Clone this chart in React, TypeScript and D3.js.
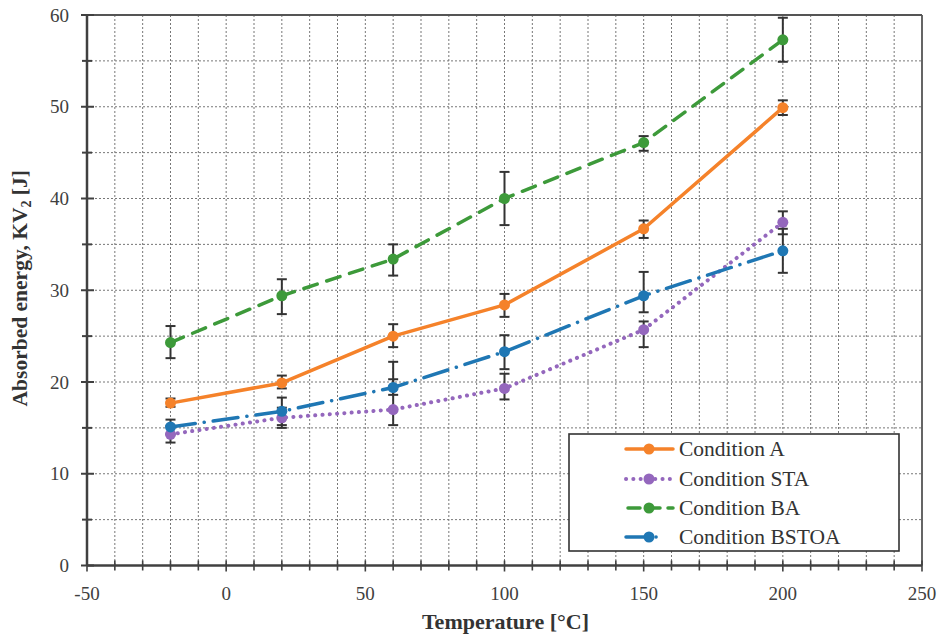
import React from 'react';
import * as d3 from 'd3';

const temps = [-20, 20, 60, 100, 150, 200];
const seriesNames = ['Condition A', 'Condition STA', 'Condition BA', 'Condition BSTOA'];
const condA = [17.7, 19.9, 25.0, 28.4, 36.7, 49.9];
const condALow = [17.3, 19.3, 23.8, 27.1, 35.7, 49.1];
const condAHigh = [18.2, 20.7, 26.3, 29.6, 37.6, 50.7];
const condSTA = [14.3, 16.1, 17.0, 19.3, 25.7, 37.4];
const condSTALow = [13.4, 15.0, 15.3, 18.1, 23.8, 36.1];
const condSTAHigh = [15.2, 17.2, 20.3, 20.9, 26.6, 38.6];
const condBA = [24.3, 29.4, 33.4, 40.0, 46.1, 57.3];
const condBALow = [22.6, 27.4, 31.6, 37.1, 45.2, 54.9];
const condBAHigh = [26.1, 31.2, 35.0, 42.9, 46.8, 59.7];
const condBSTOA = [15.1, 16.8, 19.4, 23.3, 29.4, 34.3];
const condBSTOALow = [14.3, 15.3, 18.6, 21.4, 27.6, 31.9];
const condBSTOAHigh = [15.9, 18.3, 22.2, 25.1, 32.0, 36.7];
const xTicks = [-50, 0, 50, 100, 150, 200, 250];
const yTicks = [0, 10, 20, 30, 40, 50, 60];

const W = 940;
const H = 636;
const L = 87, R = 922, T = 15, B = 565.5;

const colors = ['#f5822a', '#9467bd', '#3d9a3a', '#1f77b4'];
const dashes = ['none', '0.1,7.2', '14,10', '25,9,0.1,9'];
const values = [condA, condSTA, condBA, condBSTOA];
const lows = [condALow, condSTALow, condBALow, condBSTOALow];
const highs = [condAHigh, condSTAHigh, condBAHigh, condBSTOAHigh];

export default function App() {
  const x = d3.scaleLinear().domain([-50, 250]).range([L, R]);
  const y = d3.scaleLinear().domain([0, 60]).range([B, T]);
  const line = d3.line<number>().x((_, i) => x(temps[i])).y((d) => y(d));
  const font = '"Liberation Serif", "Times New Roman", serif';
  const xGrid = d3.range(-40, 250, 10);
  const yGrid = d3.range(5, 60, 5);
  const xMinor = d3.range(-50, 251, 10);
  const yMinor = d3.range(0, 61, 5);
  const legY = [449, 479, 508, 537];
  const legDash = ['none', '0.1,7.2', '12,8', '20,10,0.1,20'];

  return (
    <svg width={W} height={H} style={{ position: 'absolute', left: 0, top: 0, background: '#fff' }} fontFamily={font}>
      <rect x={0} y={0} width={W} height={H} fill="#fff" />
      {xGrid.map((v) => (
        <line key={'gx' + v} x1={x(v)} x2={x(v)} y1={T} y2={B} stroke="#777" strokeWidth={1} strokeDasharray="2,2" />
      ))}
      {yGrid.map((v) => (
        <line key={'gy' + v} x1={L} x2={R} y1={y(v)} y2={y(v)} stroke="#777" strokeWidth={1} strokeDasharray="2,2" />
      ))}
      <line x1={L - 6} x2={R} y1={T} y2={T} stroke="#555" strokeWidth={1.8} />
      <line x1={R} x2={R} y1={T} y2={B} stroke="#555" strokeWidth={1.8} />
      <line x1={L} x2={L} y1={T} y2={B} stroke="#404040" strokeWidth={2.5} />
      <line x1={L} x2={R} y1={B} y2={B} stroke="#404040" strokeWidth={2.5} />
      {yMinor.map((v) => (
        <line key={'ty' + v} x1={L - (v % 10 === 0 ? 6 : 5)} x2={L + (v % 10 === 0 ? 7 : 5)} y1={y(v)} y2={y(v)} stroke="#404040" strokeWidth={2} />
      ))}
      {xMinor.map((v) => (
        <line key={'tx' + v} x1={x(v)} x2={x(v)} y1={B - 5} y2={B + (v % 50 === 0 ? 6 : 5)} stroke="#404040" strokeWidth={1.6} />
      ))}
      {xTicks.map((v) => (
        <text key={'lx' + v} x={x(v)} y={600} textAnchor="middle" fontSize={19} fill="#404040">{v}</text>
      ))}
      {yTicks.map((v) => (
        <text key={'ly' + v} x={69} y={y(v) + 6.5} textAnchor="end" fontSize={19} fill="#404040">{v}</text>
      ))}
      <text x={(L + R) / 2 + 1} y={629} textAnchor="middle" fontSize={22} fontWeight="bold" fill="#333">Temperature [°C]</text>
      <text transform={`translate(27,${(T + B) / 2 - 2}) rotate(-90)`} textAnchor="middle" fontSize={21.5} fontWeight="bold" fill="#333">
        Absorbed energy, KV<tspan fontSize={14} dy={4}>2</tspan><tspan dy={-4}> [J]</tspan>
      </text>
      {values.map((vals, s) => (
        <g key={'eb' + s}>
          {vals.map((_, i) => {
            const cx = x(temps[i]);
            const y1 = y(lows[s][i]);
            const y2 = y(highs[s][i]);
            return (
              <g key={i} stroke="#333" strokeWidth={2}>
                <line x1={cx} x2={cx} y1={y1} y2={y2} />
                <line x1={cx - 5} x2={cx + 5} y1={y1} y2={y1} />
                <line x1={cx - 5} x2={cx + 5} y1={y2} y2={y2} />
              </g>
            );
          })}
        </g>
      ))}
      {values.map((vals, s) => (
        <path key={'ln' + s} d={line(vals) || ''} fill="none" stroke={colors[s]} strokeWidth={s === 1 ? 4 : 3.5}
          strokeDasharray={dashes[s]} strokeLinecap="round" strokeLinejoin="round" />
      ))}
      {values.map((vals, s) => (
        <g key={'mk' + s} fill={colors[s]}>
          {vals.map((v, i) => (
            <circle key={i} cx={x(temps[i])} cy={y(v)} r={5.5} />
          ))}
        </g>
      ))}
      <rect x={569} y={434} width={330} height={117} fill="#fff" stroke="#333" strokeWidth={1.6} />
      {seriesNames.map((name, s) => (
        <g key={'lg' + s}>
          <line x1={626} x2={673} y1={legY[s]} y2={legY[s]} stroke={colors[s]} strokeWidth={s === 1 ? 4 : 3.5}
            strokeDasharray={legDash[s]} strokeLinecap="round" strokeDashoffset={s === 2 ? -2 : 0} />
          <circle cx={649} cy={legY[s]} r={5.5} fill={colors[s]} />
          <text x={679} y={legY[s] + 7} fontSize={21.5} fill="#333">{name}</text>
        </g>
      ))}
    </svg>
  );
}
